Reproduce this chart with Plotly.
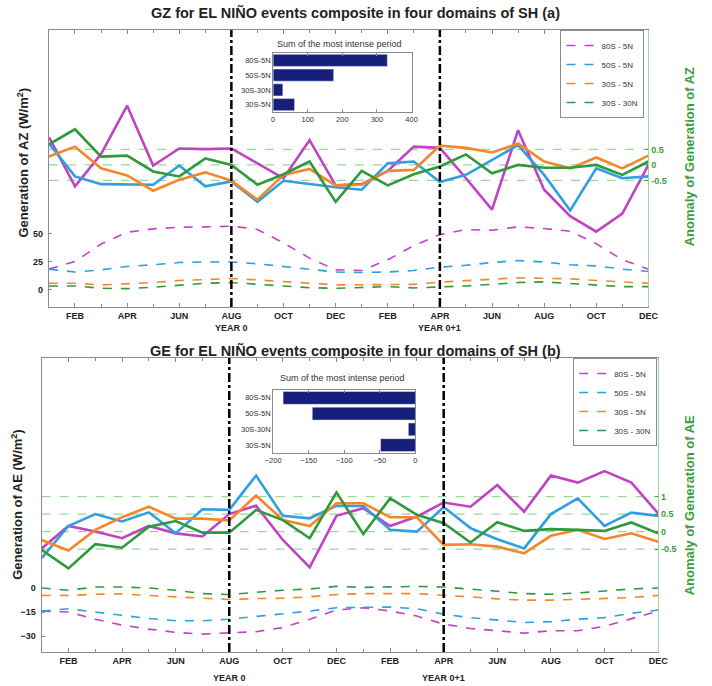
import plotly.graph_objects as go

# ---------------- data ----------------
months = list(range(24))
month_tickvals = [1, 3, 5, 7, 9, 11, 13, 15, 17, 19, 21, 23]
month_ticktext = ["FEB", "APR", "JUN", "AUG", "OCT", "DEC", "FEB", "APR", "JUN", "AUG", "OCT", "DEC"]
series_names = ["80S - 5N", "50S - 5N", "30S - 5N", "30S - 30N"]
series_colors = ["#c043c4", "#2f9fe0", "#f5862a", "#2e9a3c"]

# (a) GZ climatology (left axis, dashed)
gz_clim_8050 = [18.6, 25.4, 41, 51.5, 54.5, 56, 56.3, 57, 54, 42, 28.4, 18, 17.4, 27, 39.5, 49.4, 53.9, 53.3, 56.3, 54.8, 52.4, 41.3, 27, 18.6]
gz_clim_5005 = [18.6, 16, 18, 21, 22.5, 24.5, 25, 25, 23.4, 21, 18, 16, 15.6, 16, 17.4, 20.4, 22, 24.5, 26.3, 25, 22.5, 21.5, 18.6, 16.5]
gz_clim_3005 = [6, 6, 4.5, 5.4, 6.6, 8.4, 9.6, 10.2, 9, 7.8, 6, 4.5, 4.5, 5, 5, 7, 8, 9.6, 10.8, 10.5, 10, 8.4, 7, 6]
gz_clim_3030 = [3.6, 3.6, 1.5, 1.2, 2.4, 4.5, 6, 6.6, 5, 3, 2, 1.5, 2.4, 3, 1.8, 2.4, 3.6, 5, 6.6, 7.2, 6, 4.5, 3, 3]
# (a) GZ anomalies (right axis, solid)
gz_anom_8050 = [0.90, -0.69, 0.35, 1.91, -0.02, 0.53, 0.51, 0.53, 0.05, -0.43, 0.80, -0.66, -0.62, -0.19, 0.59, 0.55, -0.43, -1.44, 1.12, -0.80, -1.65, -2.15, -1.57, 0.0]
gz_anom_5005 = [0.69, -0.37, -0.62, -0.62, -0.64, -0.02, -0.69, -0.53, -1.19, -0.51, -0.62, -0.72, -0.80, 0.05, 0.11, -0.55, -0.32, 0.16, 0.64, -0.32, -1.47, -0.11, -0.43, -0.37]
gz_anom_3005 = [0.27, 0.59, -0.11, -0.34, -0.83, -0.48, -0.24, -0.51, -1.12, -0.32, -0.13, -0.66, -0.64, -0.19, -0.16, 0.62, 0.55, 0.40, 0.69, 0.11, -0.11, 0.24, -0.11, 0.30]
gz_anom_3030 = [0.66, 1.15, 0.27, 0.30, -0.21, -0.37, 0.21, 0.0, -0.64, -0.30, 0.11, -1.19, -0.19, -0.66, -0.30, -0.05, 0.34, -0.27, 0.0, -0.09, -0.09, 0.0, -0.32, 0.11]

# (b) GE climatology (left axis, dashed)
ge_clim_8050 = [-14.4, -15, -19.5, -23.2, -25.7, -27.7, -28.8, -28.2, -27.3, -24.7, -19.5, -13.8, -12.3, -14.4, -17.5, -22.6, -25.3, -26.7, -28.2, -26.7, -26.7, -24, -19.1, -14.4]
ge_clim_5005 = [-14.4, -13, -15, -16.9, -19.1, -20.5, -20.5, -19.5, -17.9, -16.4, -14.4, -12.3, -12.3, -11.9, -13, -16.4, -18.5, -20.1, -21.6, -21, -19.5, -18.5, -15.8, -13.8]
ge_clim_3005 = [-4.7, -4.7, -3.9, -3.7, -4.7, -5.5, -6.6, -7.2, -6.6, -6.4, -5.5, -4.1, -3.5, -3.5, -3.5, -4.7, -5.5, -6.8, -7.6, -7.6, -7.2, -6.8, -6, -4.7]
ge_clim_3030 = [0, -1.4, 0.6, 0.6, 0, -1.4, -3.5, -4.1, -2.7, -1.4, -0.6, 1, 0.4, 0.6, 1, 0.6, -0.6, -2, -3.5, -3.9, -3.1, -2, -0.6, 0]
# (b) GE anomalies (right axis, solid)
ge_anom_8050 = [-0.48, 0.16, 0.0, -0.19, 0.16, -0.05, -0.14, 0.50, 0.74, -0.24, -1.02, 0.45, 0.67, 0.16, 0.43, 0.83, 0.71, 1.33, 0.57, 1.60, 1.40, 1.73, 1.40, 0.52]
ge_anom_5005 = [-0.76, 0.16, 0.50, 0.29, 0.55, -0.05, 0.64, 0.62, 1.60, 0.45, 0.38, 0.74, 0.73, 0.05, 0.0, 0.70, 0.10, -0.22, -0.48, 0.50, 0.95, 0.16, 0.54, 0.45]
ge_anom_3005 = [-0.24, -0.54, 0.05, 0.41, 0.71, 0.37, 0.37, 0.32, 1.03, 0.33, 0.16, 0.81, 0.81, 0.41, 0.41, -0.38, -0.36, -0.43, -0.62, -0.12, 0.05, -0.21, -0.05, -0.29]
ge_anom_3030 = [-0.52, -1.05, -0.36, -0.46, 0.14, 0.30, -0.03, -0.03, 0.62, 0.33, -0.19, 1.12, -0.07, 0.95, 0.48, 0.24, -0.31, 0.27, 0.02, 0.07, 0.05, 0.02, 0.26, -0.05]

# insets: sum of the most intense period
inset_cats = ["80S-5N", "50S-5N", "30S-30N", "30S-5N"]
gz_inset_vals = [330, 175, 28, 62]
ge_inset_vals = [-186, -145, -10, -49]

gz_clim = [gz_clim_8050, gz_clim_5005, gz_clim_3005, gz_clim_3030]
gz_anom = [gz_anom_8050, gz_anom_5005, gz_anom_3005, gz_anom_3030]
ge_clim = [ge_clim_8050, ge_clim_5005, ge_clim_3005, ge_clim_3030]
ge_anom = [ge_anom_8050, ge_anom_5005, ge_anom_3005, ge_anom_3030]

# ---------------- figure ----------------
W, H = 712, 686
FONT = "Liberation Sans, Arial, sans-serif"
GREEN_AX = "#3a9e3a"
GREEN_LINE = "#9ad89a"
GRAY = "#8a8a8a"
NAVY = "#16207a"


def px(x):
    return x / W


def py(y):
    return 1 - y / H


fig = go.Figure()

# panel (a)
for i in range(4):
    fig.add_trace(go.Scatter(x=months, y=gz_clim[i], xaxis="x", yaxis="y", mode="lines",
                             line=dict(color=series_colors[i], width=1.6, dash="dash"),
                             name=series_names[i], legend="legend"))
for i in range(4):
    fig.add_trace(go.Scatter(x=months, y=gz_anom[i], xaxis="x", yaxis="y2", mode="lines",
                             line=dict(color=series_colors[i], width=2.6),
                             showlegend=False))
# panel (b)
for i in range(4):
    fig.add_trace(go.Scatter(x=months, y=ge_clim[i], xaxis="x2", yaxis="y3", mode="lines",
                             line=dict(color=series_colors[i], width=1.6, dash="dash"),
                             name=series_names[i], legend="legend2"))
for i in range(4):
    fig.add_trace(go.Scatter(x=months, y=ge_anom[i], xaxis="x2", yaxis="y4", mode="lines",
                             line=dict(color=series_colors[i], width=2.6),
                             showlegend=False))
# insets
fig.add_trace(go.Bar(x=gz_inset_vals, y=inset_cats, orientation="h", xaxis="x3", yaxis="y5",
                     marker=dict(color=NAVY), width=0.82, showlegend=False))
fig.add_trace(go.Bar(x=ge_inset_vals, y=inset_cats, orientation="h", xaxis="x4", yaxis="y6",
                     marker=dict(color=NAVY), width=0.82, showlegend=False))

tickfont_b = dict(family=FONT, size=9, color="#222", weight="bold")
tickfont_g = dict(family=FONT, size=9, color=GREEN_AX, weight="bold")
inset_font = dict(family=FONT, size=7.5, color="#333")

xcommon = dict(range=[0, 23], tickmode="array", tickvals=month_tickvals, ticktext=month_ticktext,
               tickfont=tickfont_b, ticks="inside", ticklen=4, tickcolor=GRAY,
               showline=True, linecolor=GRAY, linewidth=1, mirror="ticks",
               showgrid=False, zeroline=False,
               minor=dict(tickvals=months, ticks="inside", ticklen=3, tickcolor=GRAY))

fig.update_layout(
    width=W, height=H, margin=dict(l=0, r=0, t=0, b=0),
    paper_bgcolor="white", plot_bgcolor="white",
    font=dict(family=FONT),
    xaxis=dict(domain=[px(42), px(657)], anchor="y", **xcommon),
    yaxis=dict(domain=[py(307), py(30)], anchor="x", range=[-15.2, 232],
               tickvals=[0, 25, 50], tickfont=tickfont_b, ticks="inside", ticklen=3, tickcolor=GRAY,
               showline=True, linecolor=GRAY, showgrid=False, zeroline=False, ticklabelstandoff=3),
    yaxis2=dict(overlaying="y", side="right", anchor="x", range=[-4.58, 4.35],
                tickvals=[-0.5, 0, 0.5], ticktext=["-0.5", "0", "0.5"], tickfont=tickfont_g,
                ticks="inside", ticklen=3, tickcolor=GREEN_AX,
                showline=True, linecolor=GREEN_LINE, linewidth=1.2, showgrid=False, zeroline=False),
    xaxis2=dict(domain=[px(34.5), px(667)], anchor="y3", **xcommon),
    yaxis3=dict(domain=[py(652), py(358)], anchor="x2", range=[-40, 143.75],
                tickvals=[-30, -15, 0], tickfont=tickfont_b, ticks="inside", ticklen=3, tickcolor=GRAY,
                showline=True, linecolor=GRAY, showgrid=False, zeroline=False, ticklabelstandoff=3),
    yaxis4=dict(overlaying="y3", side="right", anchor="x2", range=[-3.44, 4.96],
                tickvals=[-0.5, 0, 0.5, 1], ticktext=["-0.5", "0", "0.5", "1"], tickfont=tickfont_g,
                ticks="inside", ticklen=3, tickcolor=GREEN_AX,
                showline=True, linecolor=GREEN_LINE, linewidth=1.2, showgrid=False, zeroline=False),
    xaxis3=dict(domain=[px(272), px(414)], anchor="y5", range=[0, 400],
                tickvals=[0, 100, 200, 300, 400], tickfont=inset_font, ticks="inside", ticklen=3,
                tickcolor=GRAY, showline=True, linecolor=GRAY, mirror="ticks",
                showgrid=False, zeroline=False),
    yaxis5=dict(domain=[py(112), py(53)], anchor="x3", type="category", autorange="reversed",
                tickfont=inset_font, showline=True, linecolor=GRAY, mirror=True,
                showgrid=False, zeroline=False, ticks=""),
    xaxis4=dict(domain=[px(272), px(418)], anchor="y6", range=[-200, 0],
                tickvals=[-200, -150, -100, -50, 0], tickfont=inset_font, ticks="inside", ticklen=3,
                tickcolor=GRAY, showline=True, linecolor=GRAY, mirror="ticks",
                showgrid=False, zeroline=False),
    yaxis6=dict(domain=[py(453), py(390)], anchor="x4", type="category", autorange="reversed",
                tickfont=inset_font, showline=True, linecolor=GRAY, mirror=True,
                showgrid=False, zeroline=False, ticks=""),
    bargap=0.1,
    legend=dict(x=px(653), xanchor="right", y=py(30), yanchor="top",
                bgcolor="white", bordercolor=GRAY, borderwidth=1,
                font=dict(family=FONT, size=8, color="#333"), tracegroupgap=0,
                itemwidth=30),
    legend2=dict(x=px(666), xanchor="right", y=py(358), yanchor="top",
                 bgcolor="white", bordercolor=GRAY, borderwidth=1,
                 font=dict(family=FONT, size=8, color="#333"), tracegroupgap=0,
                 itemwidth=30),
)

shapes = []
# green reference lines
for v in [-0.5, 0, 0.5]:
    shapes.append(dict(type="line", xref="x", yref="y2", x0=0, x1=23, y0=v, y1=v,
                       line=dict(color=GREEN_LINE, width=1.2, dash="dash"), layer="below"))
for v in [-0.5, 0, 0.5, 1]:
    shapes.append(dict(type="line", xref="x2", yref="y4", x0=0, x1=23, y0=v, y1=v,
                       line=dict(color=GREEN_LINE, width=1.2, dash="dash"), layer="below"))
# event markers
for xv in [7, 15]:
    shapes.append(dict(type="line", xref="x", yref="y domain", x0=xv, x1=xv, y0=0, y1=1,
                       line=dict(color="black", width=2.5, dash="dashdot")))
    shapes.append(dict(type="line", xref="x2", yref="y3 domain", x0=xv, x1=xv, y0=0, y1=1,
                       line=dict(color="black", width=2.5, dash="dashdot")))
fig.update_layout(shapes=shapes)


def note(text, x, y, size, color="#222", bold=True, angle=0, xref="paper"):
    return dict(text=text, x=x, y=y, xref=xref, yref="paper", showarrow=False,
                xanchor="center", yanchor="middle", textangle=angle,
                font=dict(family=FONT, size=size, color=color, weight="bold" if bold else "normal"))


ann = [
    note("GZ for EL NIÑO events composite in four domains of SH (a)", 0.5, py(12), 14.5),
    note("GE for EL NIÑO events composite in four domains of SH (b)", 0.5, py(350), 14.5),
    note("Sum of the most intense period", px(340), py(44), 9, color="#333", bold=False),
    note("Sum of the most intense period", px(343), py(378), 9, color="#333", bold=False),
    note("Generation of AZ (W/m<sup>2</sup>)", px(15), py(163), 13, angle=-90),
    note("Anomaly of Generation of AZ", px(700), py(157), 13, color=GREEN_AX, angle=-90),
    note("Generation of AE (W/m<sup>2</sup>)", px(9), py(505), 13, angle=-90),
    note("Anomaly of Generation of AE", px(699), py(505), 13, color=GREEN_AX, angle=-90),
    note("YEAR 0", 7, py(328), 9, xref="x"),
    note("YEAR 0+1", 15, py(328), 9, xref="x"),
    note("YEAR 0", 7, py(678), 9, xref="x2"),
    note("YEAR 0+1", 15, py(678), 9, xref="x2"),
]
fig.update_layout(annotations=ann)

fig.write_html("out.html")
